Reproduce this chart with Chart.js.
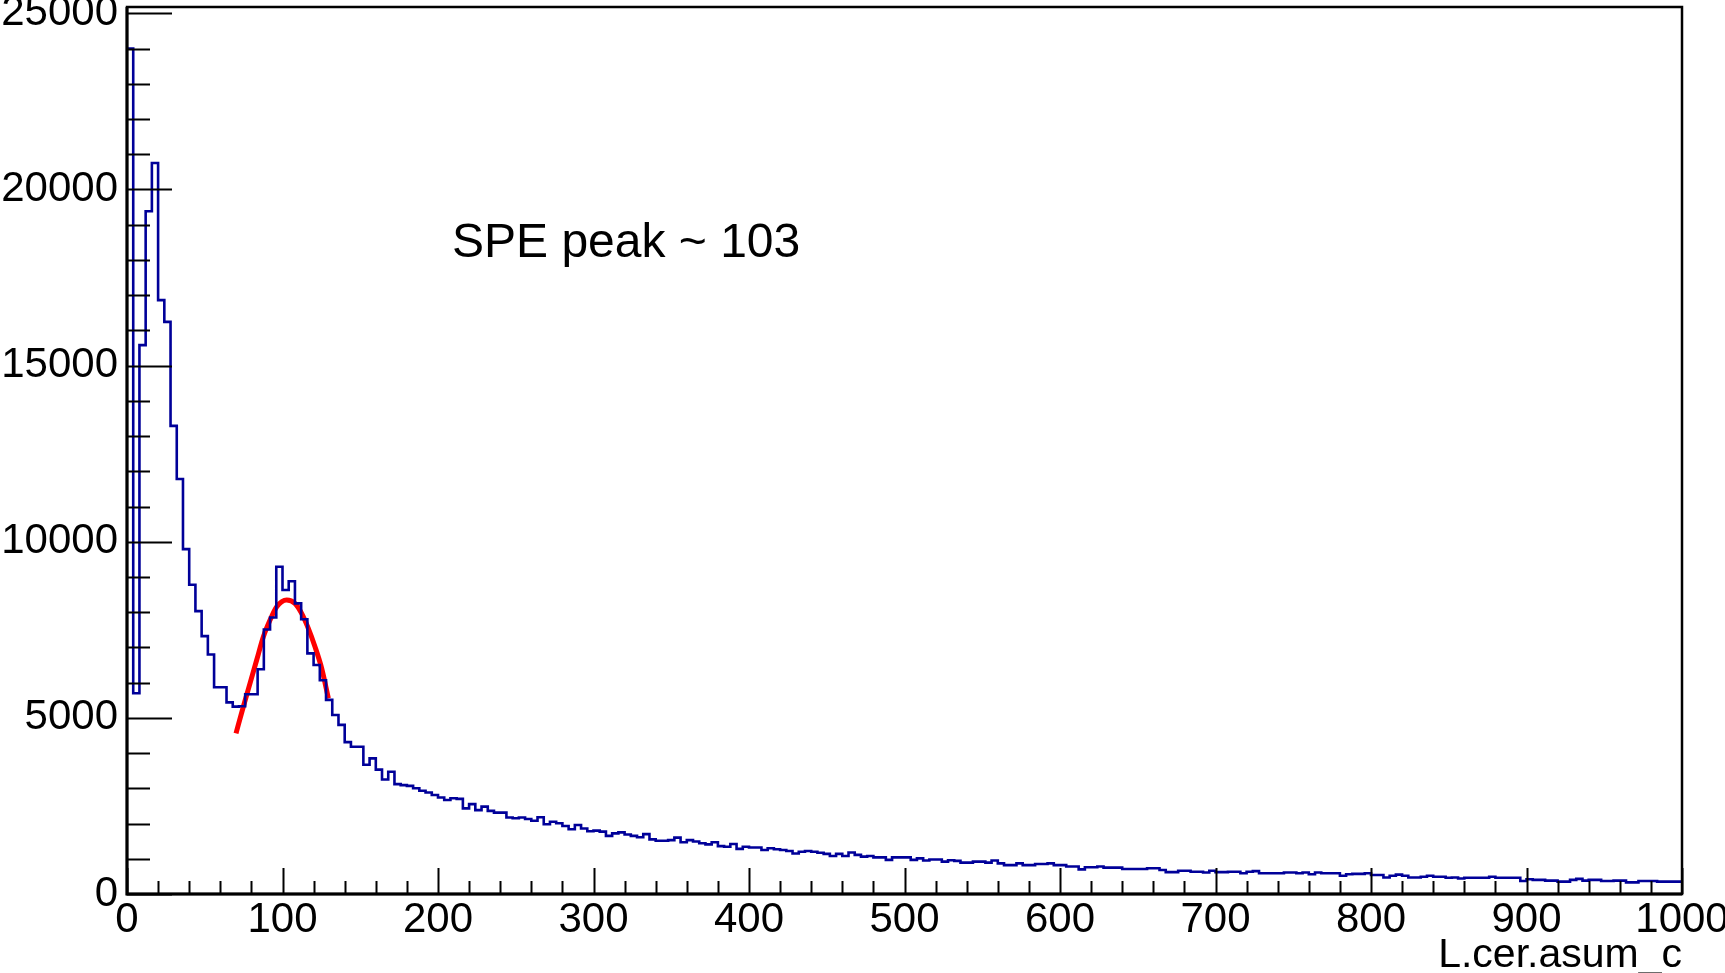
<!DOCTYPE html>
<html>
<head>
<meta charset="utf-8">
<title>L.cer.asum_c</title>
<script src="https://cdn.jsdelivr.net/npm/chart.js@4.4.1/dist/chart.umd.min.js"></script>
<style>
  html, body { margin:0; padding:0; background:#fff; }
  #hist { display:block; }
</style>
</head>
<body>
<canvas id="hist" width="1725" height="973"></canvas>
<script>
Chart.defaults.font.family = '"Liberation Sans", Arial, Helvetica, sans-serif';
Chart.defaults.color = '#000';

// histogram: 250 bins of width 4 from 0 to 1000
const X_MIN = 0, X_MAX = 1000, BIN_WIDTH = 4;
const Y_MAX = 25180;

const counts = [
  24000, 5700, 15580, 19380, 20750, 16860, 16240, 13290, 11780, 9790,
  8780, 8030, 7320, 6800, 5870, 5870, 5440, 5320, 5330, 5670,
  5670, 6380, 7510, 7850, 9290, 8630, 8880, 8250, 7800, 6830,
  6500, 6070, 5510, 5080, 4800, 4310, 4180, 4180, 3670, 3850,
  3530, 3250, 3470, 3120, 3090, 3070, 3000, 2930, 2880, 2810,
  2740, 2670, 2720, 2700, 2430, 2550, 2380, 2480, 2360, 2310,
  2310, 2170, 2150, 2170, 2130, 2080, 2180, 1980, 2050, 2010,
  1930, 1840, 1960, 1860, 1780, 1800, 1770, 1650, 1720, 1750,
  1690, 1650, 1610, 1700, 1550, 1510, 1510, 1530, 1600, 1470,
  1530, 1490, 1440, 1410, 1470, 1360, 1340, 1420, 1280, 1340,
  1320, 1320, 1250, 1300, 1270, 1250, 1220, 1150, 1200, 1220,
  1200, 1170, 1140, 1080, 1140, 1080, 1180, 1110, 1060, 1080,
  1040, 1040, 970, 1040, 1040, 1040, 970, 1010, 950, 980,
  980, 920, 960, 940, 890, 890, 920, 920, 890, 950,
  870, 820, 820, 870, 820, 820, 850, 850, 870, 820,
  820, 780, 780, 700, 760, 760, 780, 750, 750, 750,
  710, 710, 710, 710, 730, 730, 680, 620, 620, 660,
  660, 630, 630, 610, 660, 620, 620, 630, 630, 590,
  630, 650, 590, 590, 590, 590, 610, 610, 590, 610,
  560, 610, 590, 590, 590, 520, 560, 570, 570, 590,
  540, 540, 470, 520, 550, 520, 470, 470, 490, 520,
  490, 490, 460, 470, 440, 460, 460, 460, 460, 490,
  460, 460, 460, 460, 370, 420, 400, 400, 380, 380,
  350, 350, 400, 430, 380, 400, 400, 370, 370, 380,
  380, 330, 330, 370, 370, 370, 350, 350, 350, 350
];

// gaussian fit curve
const fitX = [70.1, 74.8, 79.1, 83.4, 87.7, 92.0, 96.3, 102.7, 108.0, 112.3, 116.6, 120.9, 125.2, 129.5];
const fitY = [4560, 5316, 5979, 6641, 7302, 7776, 8154, 8344, 8250, 7966, 7540, 7019, 6405, 5553];

const xTicks = [0, 100, 200, 300, 400, 500, 600, 700, 800, 900, 1000];
const yTicks = [0, 5000, 10000, 15000, 20000, 25000];
const X_MINOR = 20, Y_MINOR = 1000;

const peakLabel = 'SPE peak ~ 103';
const peakLabelPos = { x: 209, y: 18090 };
const xTitle = 'L.cer.asum_c';

const histPts = counts.map((c, i) => ({ x: X_MIN + i * BIN_WIDTH, y: c }));
histPts.push({ x: X_MAX, y: counts[counts.length - 1] });
const fitPts = fitX.map((x, i) => ({ x, y: fitY[i] }));

// ROOT style frame with inward ticks, drawn over the histogram
const rootFrame = {
  id: 'rootFrame',
  afterDatasetsDraw(chart) {
    const { ctx, chartArea: a, scales: { x, y } } = chart;
    ctx.save();
    ctx.strokeStyle = '#000';
    ctx.lineWidth = 2;
    ctx.beginPath();
    for (let v = 0; v <= Y_MAX; v += Y_MINOR) {
      const py = Math.round(y.getPixelForValue(v)) + 0.5;
      const len = yTicks.includes(v) ? 45 : 23;
      ctx.moveTo(a.left, py); ctx.lineTo(a.left + len, py);
    }
    for (let v = X_MIN; v <= X_MAX; v += X_MINOR) {
      const px = Math.round(x.getPixelForValue(v)) + 0.5;
      const len = xTicks.includes(v) ? 26 : 13;
      ctx.moveTo(px, a.bottom); ctx.lineTo(px, a.bottom - len);
    }
    ctx.stroke();

    ctx.lineWidth = 2.5;
    ctx.strokeRect(a.left, a.top, a.right - a.left, a.bottom - a.top);
    ctx.lineWidth = 3;
    ctx.beginPath();
    ctx.moveTo(a.left, a.top); ctx.lineTo(a.left, a.bottom); ctx.lineTo(a.right, a.bottom);
    ctx.stroke();

    ctx.fillStyle = '#000';
    ctx.font = '48px "Liberation Sans", Arial, sans-serif';
    ctx.textAlign = 'left';
    ctx.textBaseline = 'alphabetic';
    ctx.fillText(peakLabel, x.getPixelForValue(peakLabelPos.x), y.getPixelForValue(peakLabelPos.y));
    ctx.restore();
  }
};

new Chart(document.getElementById('hist'), {
  type: 'line',
  data: {
    datasets: [
      { data: histPts, stepped: 'before', borderColor: '#000099', borderWidth: 2.6,
        pointRadius: 0, fill: false },
      { data: fitPts, borderColor: '#ff0000', borderWidth: 5, pointRadius: 0, fill: false,
        cubicInterpolationMode: 'monotone', borderCapStyle: 'butt' }
    ]
  },
  options: {
    responsive: false,
    animation: false,
    events: [],
    layout: { padding: { top: 7, right: 43, left: 0, bottom: 0 } },
    plugins: { legend: { display: false }, tooltip: { enabled: false } },
    scales: {
      x: {
        type: 'linear', min: X_MIN, max: X_MAX,
        grid: { display: false, drawTicks: false },
        border: { display: false },
        afterBuildTicks: s => { s.ticks = xTicks.map(v => ({ value: v })); },
        ticks: { autoSkip: false, maxRotation: 0, font: { size: 42 }, padding: 1,
                 callback: v => String(v) },
        title: { display: true, text: xTitle, align: 'end', font: { size: 41, lineHeight: 1 },
                 padding: { top: 0, bottom: -3 } },
        afterFit: s => { s.height = 79; s.paddingLeft = 0; s.paddingRight = 0; }
      },
      y: {
        min: 0, max: Y_MAX,
        grid: { display: false, drawTicks: false },
        border: { display: false },
        afterBuildTicks: s => { s.ticks = yTicks.map(v => ({ value: v })); },
        ticks: { font: { size: 42 }, padding: 9, callback: v => String(v) },
        afterFit: s => { s.width = 127; s.paddingTop = 0; s.paddingBottom = 0; }
      }
    }
  },
  plugins: [rootFrame]
});
</script>
</body>
</html>
